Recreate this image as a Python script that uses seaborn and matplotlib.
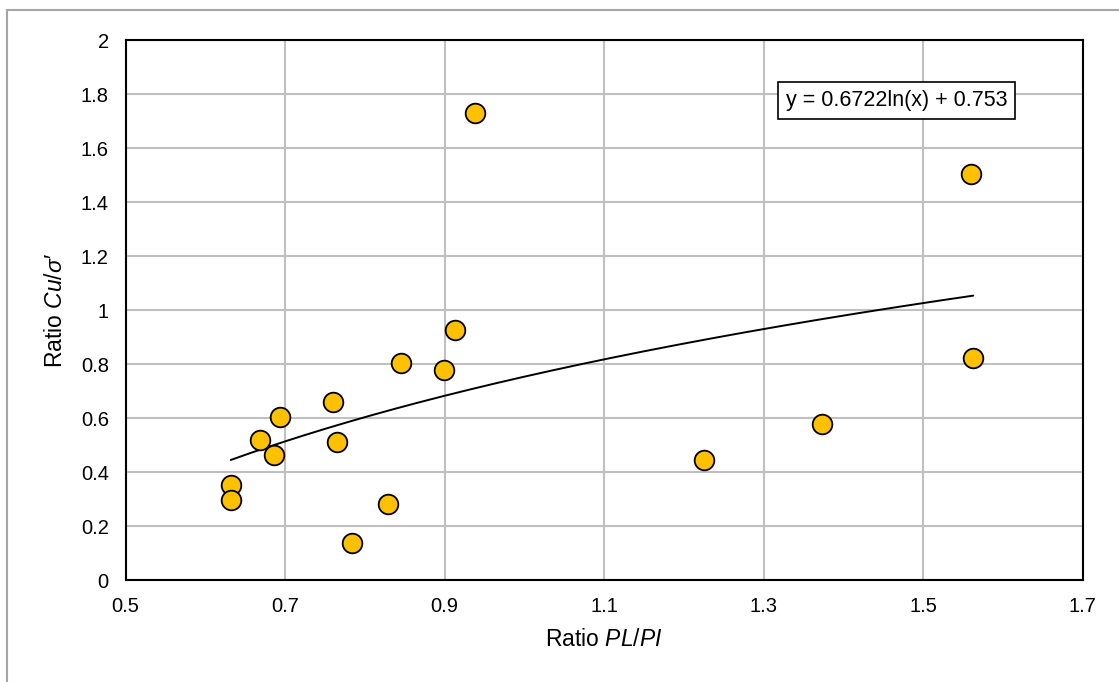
import matplotlib

matplotlib.use("Agg")

import matplotlib.pyplot as plt
import numpy as np
import pandas as pd
import seaborn as sns
from matplotlib.lines import Line2D

# data
PL_PI = [0.632, 0.632, 0.669, 0.686, 0.694, 0.760, 0.765, 0.784, 0.829,
         0.845, 0.899, 0.913, 0.938, 1.225, 1.373, 1.560, 1.563]
CU_SIGMA = [0.352, 0.295, 0.519, 0.463, 0.604, 0.659, 0.511, 0.137, 0.281,
            0.804, 0.778, 0.926, 1.730, 0.444, 0.578, 1.504, 0.822]
TREND_A = 0.6722
TREND_B = 0.753
X_TICKS = [0.5, 0.7, 0.9, 1.1, 1.3, 1.5, 1.7]
Y_TICKS = [0, 0.2, 0.4, 0.6, 0.8, 1, 1.2, 1.4, 1.6, 1.8, 2]

sns.set_theme(style="white")
plt.rcParams["font.family"] = ["Liberation Sans", "DejaVu Sans"]
plt.rcParams["mathtext.fontset"] = "custom"
plt.rcParams["mathtext.rm"] = "Liberation Sans"
plt.rcParams["mathtext.it"] = "Liberation Sans:italic"
plt.rcParams["text.color"] = "black"
plt.rcParams["axes.labelcolor"] = "black"
plt.rcParams["xtick.color"] = "black"
plt.rcParams["ytick.color"] = "black"

df = pd.DataFrame({"x": PL_PI, "y": CU_SIGMA})

fig = plt.figure(figsize=(11.19, 6.82), dpi=100)
ax = fig.add_axes([125.5 / 1119, 1 - 580 / 682, 957 / 1119, 540 / 682])

# outer chart border (only top and left visible in the crop)
fig.add_artist(Line2D([7 / 1119, 7 / 1119], [0, 1 - 10 / 682],
                      color="#a6a6a6", lw=1.5, transform=fig.transFigure))
fig.add_artist(Line2D([7 / 1119, 1], [1 - 10 / 682, 1 - 10 / 682],
                      color="#a6a6a6", lw=1.5, transform=fig.transFigure))

ax.set_axisbelow(True)
ax.grid(True, color="#c0c0c0", lw=1.5)

# logarithmic trendline over the data range
xt = np.linspace(min(PL_PI), max(PL_PI), 200)
trend = pd.DataFrame({"x": xt, "y": TREND_A * np.log(xt) + TREND_B})
sns.lineplot(trend, x="x", y="y", color="black", lw=1.4, ax=ax, zorder=2)

sns.scatterplot(df, x="x", y="y", s=200, color="#ffc000", edgecolor="black",
                linewidth=1.3, ax=ax, zorder=3)

ax.set_xlim(0.5, 1.7)
ax.set_ylim(0, 2)
ax.set_xticks(X_TICKS)
ax.set_yticks(Y_TICKS)
ax.set_xticklabels([f"{v:g}" for v in X_TICKS])
ax.set_yticklabels([f"{v:g}" for v in Y_TICKS])
ax.tick_params(axis="both", direction="out", length=5, width=1.5,
               color="black", labelcolor="black", labelsize=14.5, pad=7)
for s in ax.spines.values():
    s.set_color("black")
    s.set_linewidth(1.5)

ax.set_xlabel("Ratio $\\mathit{PL}$/$\\mathit{PI}$", fontsize=16.5, labelpad=9)
ax.set_ylabel("Ratio $\\mathit{Cu}$/$\\mathit{\\sigma}$\u2032", fontsize=16.5,
              labelpad=10)

ax.text(1.3276, 1.776, f"y = {TREND_A}ln(x) + {TREND_B}", fontsize=15.5,
        va="center", ha="left",
        bbox=dict(boxstyle="square,pad=0.35", fc="white", ec="black", lw=1.2))

fig.savefig("out.png", dpi=100)
plt.close(fig)
